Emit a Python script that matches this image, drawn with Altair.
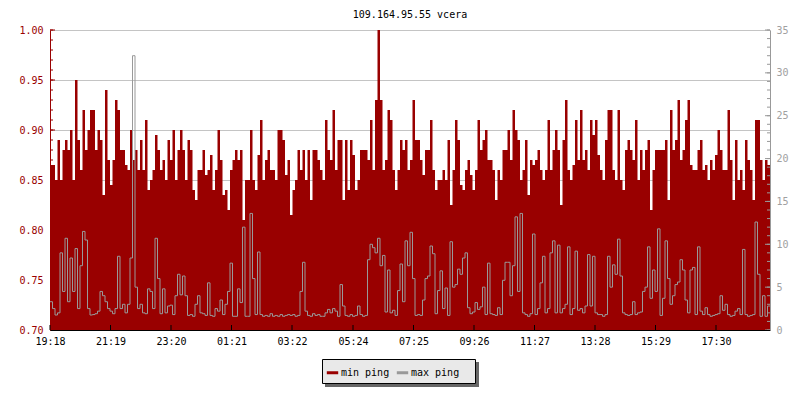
import altair as alt
import pandas as pd

TITLE = "109.164.95.55 vcera"
START = "19:18"
STEP_MIN = 5
SERIES = ["min ping", "max ping"]
RED = "#990000"
GRAY = "#999999"
MONO = "DejaVu Sans Mono"

tick_labels = ["19:18", "21:19", "23:20", "01:21", "03:22", "05:24",
               "07:25", "09:26", "11:27", "13:28", "15:29", "17:30"]
left_ticks = [0.70, 0.75, 0.80, 0.85, 0.90, 0.95, 1.00]
right_ticks = [0, 5, 10, 15, 20, 25, 30, 35]

# min ping (left axis), one value per 5 minutes from 19:18
min_ping = [
    0.865, 0.865, 0.85, 0.89, 0.85, 0.88, 0.89, 0.88, 0.90, 0.85,
    0.95, 0.89, 0.86, 0.92, 0.88, 0.90, 0.92, 0.92, 0.88, 0.90,
    0.89, 0.835, 0.94, 0.87, 0.845, 0.87, 0.93, 0.92, 0.88, 0.88,
    0.865, 0.86, 0.90, 0.87, 0.88, 0.86, 0.89, 0.86, 0.91, 0.84,
    0.85, 0.86, 0.895, 0.88, 0.86, 0.87, 0.85, 0.89,
    0.87, 0.90, 0.85, 0.88, 0.90, 0.88, 0.85, 0.89, 0.88, 0.84,
    0.83, 0.86, 0.86, 0.88, 0.855, 0.86, 0.875, 0.84, 0.86, 0.90,
    0.87, 0.835, 0.84, 0.82, 0.86, 0.87, 0.88, 0.87, 0.88, 0.81,
    0.85, 0.85, 0.90, 0.85, 0.84, 0.875, 0.91, 0.85, 0.87, 0.88,
    0.86, 0.86, 0.85, 0.90, 0.90, 0.89, 0.855, 0.87,
    0.815, 0.84, 0.85, 0.88, 0.86, 0.88, 0.85, 0.88, 0.83, 0.88,
    0.88, 0.87, 0.86, 0.85, 0.91, 0.88, 0.87, 0.92, 0.86, 0.89,
    0.89, 0.83, 0.89, 0.84, 0.89, 0.875, 0.84, 0.85, 0.88, 0.88,
    0.88, 0.87, 0.91, 0.86, 0.93, 1.00, 0.93, 0.86, 0.87, 0.92,
    0.91, 0.86, 0.84, 0.86, 0.89, 0.88, 0.89, 0.86,
    0.87, 0.93, 0.89, 0.89, 0.87, 0.855, 0.88, 0.88, 0.91, 0.86,
    0.84, 0.85, 0.85, 0.86, 0.85, 0.89, 0.825, 0.86, 0.91, 0.89,
    0.845, 0.84, 0.86, 0.87, 0.855, 0.84, 0.86, 0.91, 0.88, 0.89,
    0.90, 0.87, 0.87, 0.86, 0.83, 0.86, 0.85, 0.88, 0.88, 0.90,
    0.87, 0.92, 0.90, 0.89, 0.85, 0.86, 0.89, 0.835,
    0.87, 0.865, 0.87, 0.88, 0.86, 0.85, 0.86, 0.91, 0.86, 0.88,
    0.90, 0.88, 0.825, 0.89, 0.93, 0.86, 0.85, 0.865, 0.91, 0.87,
    0.92, 0.87, 0.88, 0.86, 0.91, 0.895, 0.91, 0.875, 0.86, 0.85,
    0.89, 0.92, 0.92, 0.86, 0.85, 0.92, 0.85, 0.84, 0.88, 0.89,
    0.88, 0.87, 0.91, 0.85, 0.88, 0.86, 0.88, 0.89,
    0.82, 0.86, 0.88, 0.88, 0.88, 0.88, 0.89, 0.83, 0.92, 0.88,
    0.89, 0.93, 0.87, 0.88, 0.91, 0.93, 0.865, 0.86, 0.86, 0.88,
    0.89, 0.86, 0.865, 0.85, 0.87, 0.86, 0.875, 0.90, 0.88, 0.86,
    0.86, 0.92, 0.87, 0.83, 0.89, 0.85, 0.86, 0.84, 0.89, 0.87,
    0.86, 0.83, 0.91, 0.91, 0.87, 0.85, 0.87, 0.865,
]

# max ping (right axis), same timestamps
max_ping = [
    3.3, 2.5, 1.75, 2.0, 9.0, 4.5, 10.7, 3.3, 8.4, 4.5,
    9.5, 2.5, 7.5, 11.5, 10.5, 2.5, 1.75, 1.8, 1.9, 2.2,
    4.5, 4.0, 3.3, 2.5, 2.2, 1.9, 2.5, 8.6, 2.5, 3.0,
    2.0, 3.0, 8.4, 32.0, 5.0, 2.5, 3.0, 2.0, 1.9, 4.8,
    4.5, 2.5, 10.7, 6.0, 1.9, 4.8, 2.0, 2.8,
    2.9, 1.8, 4.0, 6.5, 4.1, 6.3, 4.0, 1.7, 1.8, 1.6,
    3.0, 4.0, 2.0, 1.9, 1.7, 5.5, 1.7, 1.6, 2.5, 2.2,
    3.5, 1.8, 3.0, 4.5, 7.8, 1.6, 1.6, 4.8, 3.2, 12.0,
    1.6, 1.6, 13.6, 6.0, 1.8, 9.1, 1.8, 1.6, 1.7, 1.6,
    1.9, 1.6, 1.7, 1.6, 1.8, 1.6, 1.7, 1.8,
    1.7, 1.8, 1.6, 1.7, 4.5, 7.9, 2.2, 1.7, 1.6, 1.9,
    1.7, 1.8, 1.6, 1.6, 2.0, 2.4, 2.0, 2.5, 2.2, 1.6,
    5.3, 2.8, 1.7, 1.6, 1.8, 1.6, 1.7, 2.8, 1.8, 1.6,
    1.7, 8.2, 10.0, 9.6, 9.0, 10.7, 7.5, 8.7, 2.1, 7.0,
    2.0, 2.3, 1.7, 4.6, 7.7, 3.3, 10.4, 7.5,
    11.4, 6.0, 1.7, 1.8, 1.7, 3.5, 6.0, 6.3, 9.8, 8.9,
    1.9, 4.6, 6.9, 2.5, 4.9, 1.7, 10.3, 5.0, 5.3, 7.1,
    6.5, 8.4, 9.0, 2.6, 1.9, 2.1, 3.2, 2.4, 2.7, 5.0,
    1.8, 7.8, 1.9, 1.8, 1.7, 2.6, 1.8, 5.8, 7.9, 7.9,
    4.0, 7.5, 13.2, 4.5, 13.6, 2.0, 1.8, 1.6,
    1.9, 11.2, 1.8, 2.5, 5.5, 8.6, 2.0, 2.5, 9.0, 10.4,
    2.0, 9.9, 2.0, 2.5, 3.0, 9.7, 1.8, 2.5, 9.2, 2.3,
    2.5, 2.0, 2.8, 8.8, 2.8, 8.6, 2.0, 1.8, 1.8, 1.6,
    1.8, 8.6, 5.0, 7.6, 6.5, 10.6, 6.3, 2.0, 1.8, 1.7,
    1.8, 3.3, 1.8, 2.0, 2.1, 4.5, 5.0, 9.7,
    3.7, 7.0, 4.5, 11.8, 1.7, 3.7, 10.4, 6.0, 3.0, 4.0,
    5.3, 5.6, 8.2, 7.0, 3.5, 2.0, 7.0, 7.3, 1.8, 9.7,
    2.2, 1.8, 2.6, 1.8, 1.6, 1.7, 1.8, 1.9, 4.0, 2.3,
    3.0, 1.8, 1.6, 1.7, 2.2, 2.5, 1.8, 9.4, 1.8, 1.6,
    1.7, 1.8, 12.6, 6.5, 1.6, 4.0, 1.6, 2.8,
]


def minutes_from_start(s):
    h, m = map(int, s.split(":"))
    h0, m0 = map(int, START.split(":"))
    return ((h * 60 + m) - (h0 * 60 + m0)) % 1440


tick_pos = [minutes_from_start(s) for s in tick_labels]
n = len(min_ping)
span = n * STEP_MIN

df = pd.DataFrame({
    "t": [i * STEP_MIN for i in range(n)] + [span],
    "min": min_ping + [min_ping[-1]],
    "max": max_ping + [max_ping[-1]],
    "series": [SERIES[1]] * (n + 1),
})

label_expr = " : ".join(
    f"datum.value == {p} ? '{l}'" for p, l in zip(tick_pos, tick_labels)
) + " : ''"

xs = alt.Scale(domain=[0, span], nice=False, zero=False)
ys_left = alt.Scale(domain=[left_ticks[0], left_ticks[-1]], nice=False, zero=False)
ys_right = alt.Scale(domain=[right_ticks[0], right_ticks[-1]], nice=False, zero=False)

x_axis = alt.Axis(values=tick_pos, labelExpr=label_expr, title=None, ticks=False,
                  grid=False, domainColor="black", labelColor="black",
                  labelFont=MONO, labelFontSize=10, labelPadding=6,
                  labelFlush=False, labelOverlap=False, zindex=1)
left_axis = alt.Axis(values=left_ticks, format=".2f", title=None, ticks=False,
                     grid=True, gridColor="#c4c4c4", domainColor=RED,
                     labelColor=RED, labelFont=MONO, labelFontSize=10,
                     labelPadding=7, labelFlush=False, labelOverlap=False, zindex=0)
right_axis = alt.Axis(values=right_ticks, orient="right", title=None, ticks=False,
                      grid=False, domainColor=GRAY, labelColor="#a0a0a0",
                      labelFont=MONO, labelFontSize=10, labelPadding=6,
                      labelFlush=False, labelOverlap=False, zindex=1)

area = alt.Chart(df).mark_area(interpolate="step-after", color=RED).encode(
    x=alt.X("t:Q", scale=xs, axis=x_axis),
    y=alt.Y("min:Q", scale=ys_left, axis=left_axis),
    y2=alt.datum(left_ticks[0]),
)

left_minor = pd.DataFrame({"v": [round(left_ticks[0] + 0.01 * k, 2) for k in range(31)]})
left_major = pd.DataFrame({"v": left_ticks})
lt_minor = alt.Chart(left_minor).mark_rule(color=RED).encode(
    y=alt.Y("v:Q", scale=ys_left, axis=left_axis), x=alt.value(0), x2=alt.value(3))
lt_major = alt.Chart(left_major).mark_rule(color=RED).encode(
    y=alt.Y("v:Q", scale=ys_left, axis=left_axis), x=alt.value(0), x2=alt.value(5))
x_ticks = alt.Chart(pd.DataFrame({"t": tick_pos})).mark_rule(color="black").encode(
    x=alt.X("t:Q", scale=xs, axis=x_axis), y=alt.value(300), y2=alt.value(295))

box_data = alt.Data(values=[{"k": 0}])
shadow = alt.Chart(box_data).mark_rect(color="#666666").encode(
    x=alt.value(275), x2=alt.value(429), y=alt.value(332), y2=alt.value(357))
box = alt.Chart(box_data).mark_rect(fill="#e9e9e9", stroke="black", strokeWidth=1).encode(
    x=alt.value(272.5), x2=alt.value(425.5), y=alt.value(329.5), y2=alt.value(353.5))

left_group = alt.layer(area, lt_minor, lt_major, x_ticks, shadow, box)

line = alt.Chart(df).mark_line(interpolate="step-after", strokeWidth=1).encode(
    x=alt.X("t:Q", scale=xs, axis=x_axis),
    y=alt.Y("max:Q", scale=ys_right, axis=right_axis),
    stroke=alt.Stroke(
        "series:N",
        scale=alt.Scale(domain=SERIES, range=[RED, GRAY]),
        legend=alt.Legend(title=None, orient="none", legendX=275, legendY=335,
                          direction="horizontal", symbolType="stroke",
                          symbolStrokeWidth=3, symbolSize=130, labelOffset=1,
                          columnPadding=0, padding=0, labelFont=MONO,
                          labelFontSize=10, labelColor="black"),
    ),
)
right_minor = pd.DataFrame({"v": list(range(right_ticks[0], right_ticks[-1] + 1))})
right_major = pd.DataFrame({"v": right_ticks})
rt_minor = alt.Chart(right_minor).mark_rule(color=GRAY).encode(
    y=alt.Y("v:Q", scale=ys_right, axis=right_axis), x=alt.value(720), x2=alt.value(717))
rt_major = alt.Chart(right_major).mark_rule(color=GRAY).encode(
    y=alt.Y("v:Q", scale=ys_right, axis=right_axis), x=alt.value(720), x2=alt.value(715))

right_group = alt.layer(line, rt_minor, rt_major)

chart = alt.layer(left_group, right_group).resolve_scale(y="independent").properties(
    width=720,
    height=300,
    title=alt.TitleParams(TITLE, font=MONO, fontSize=10, fontWeight="normal",
                          color="black", anchor="middle", offset=5),
    padding={"left": 42, "top": 22, "right": 22, "bottom": 62},
    autosize=alt.AutoSizeParams(type="none"),
    background="white",
).configure_view(strokeWidth=0)

chart.save("out.html", embed_options={"renderer": "svg", "actions": False})
